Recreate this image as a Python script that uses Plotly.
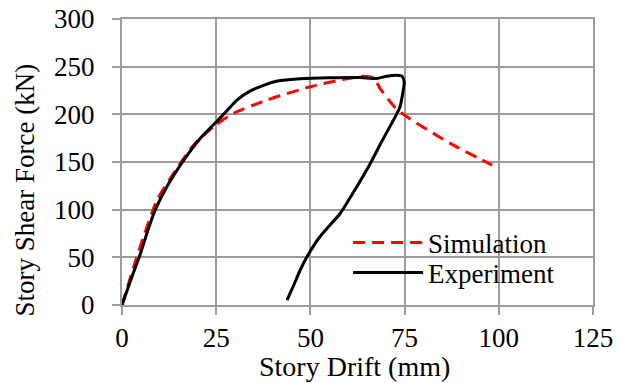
import plotly.graph_objects as go

# Experiment curve (story drift mm, story shear kN)
exp_x = [0, 2.5, 4.9, 7, 8.8, 11.9, 16.4, 20.8, 25, 27.9, 30.5, 34.1, 40.2, 47.3, 55, 63.2,
         67.6, 70.3, 73, 74.3, 74.9, 74.5, 73.8, 72.5, 69, 65.9, 62, 57.9, 55, 52.5, 49.1,
         47.3, 45.5, 43.8]
exp_y = [0, 28, 54, 80, 99.6, 124, 152, 175, 192, 204, 215, 224.6, 234, 237.2, 238.3, 238.6,
         237.6, 240, 241, 240, 234, 222, 208, 197.4, 172, 148.5, 122, 96, 83, 71.6, 50.6,
         36.7, 20, 5.2]

# Simulation curve
sim_x = [0, 3.1, 5.7, 9.3, 13.7, 19, 24.8, 29.6, 38.5, 50, 57.9, 64.1, 66.8, 68.5, 70.8,
         72.5, 75.6, 87.1, 98.2]
sim_y = [0, 40, 71.6, 110, 138, 167.7, 188.7, 201, 215, 229, 236, 240, 238, 227, 215,
         207, 197.4, 169.5, 146.8]

x_ticks = [0, 25, 50, 75, 100, 125]
y_ticks = [0, 50, 100, 150, 200, 250, 300]

FONT = "Liberation Serif"
GRID = "#9c9c9c"

fig = go.Figure()
fig.add_trace(go.Scatter(
    x=sim_x, y=sim_y, mode="lines", name="Simulation", legend="legend",
    line=dict(color="#ff0000", width=3, dash="12px,7px", shape="spline", smoothing=0.6),
))
fig.add_trace(go.Scatter(
    x=exp_x, y=exp_y, mode="lines", name="Experiment", legend="legend2",
    line=dict(color="#000000", width=3, shape="spline", smoothing=0.6),
))

axis_common = dict(
    showgrid=True, gridcolor=GRID, gridwidth=2, automargin=False,
    showline=True, linecolor=GRID, linewidth=2, mirror=True,
    zeroline=False, ticks="outside", ticklen=8, tickwidth=2, tickcolor=GRID,
    tickfont=dict(family=FONT, size=27, color="#000000"),
)

fig.update_xaxes(range=[0, 125], tickvals=x_ticks, ticktext=[str(v) for v in x_ticks],
                 **axis_common)
fig.update_yaxes(range=[0, 300], tickvals=y_ticks, ticktext=[str(v) for v in y_ticks],
                 ticklabelstandoff=12, **axis_common)

legend_common = dict(
    xref="paper", yref="paper", xanchor="left", yanchor="middle",
    bgcolor="rgba(0,0,0,0)", borderwidth=0, itemwidth=70,
    font=dict(family=FONT, size=27, color="#000000"),
)

fig.update_layout(
    width=623, height=383,
    margin=dict(l=122, r=30, t=19, b=78, autoexpand=False),
    paper_bgcolor="white", plot_bgcolor="white",
    showlegend=True,
    legend=dict(x=0.48, y=0.2168, **legend_common),
    legend2=dict(x=0.48, y=0.112, **legend_common),
    font=dict(family=FONT, color="#000000"),
    annotations=[
        dict(text="Story Drift (mm)", xref="paper", yref="paper", x=0.494, y=-0.215,
             xanchor="center", yanchor="middle", showarrow=False,
             font=dict(family=FONT, size=28, color="#000000")),
        dict(text="Story Shear Force (kN)", xref="paper", yref="paper", x=-0.205, y=0.402,
             xanchor="center", yanchor="middle", showarrow=False, textangle=-90,
             font=dict(family=FONT, size=27, color="#000000")),
    ],
)

fig.write_html("out.html", config={"displayModeBar": False},
               post_script="document.body.style.margin='0';")
